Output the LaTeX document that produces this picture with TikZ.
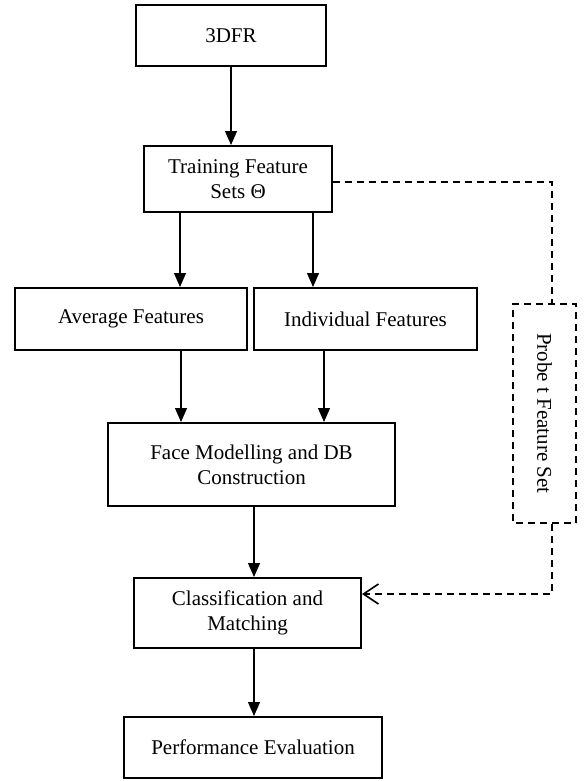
\documentclass[tikz,border=0pt]{standalone}
\usepackage{fontspec}
\setmainfont{Liberation Serif}
\usetikzlibrary{arrows.meta}
\begin{document}
\begin{tikzpicture}[x=1pt,y=-1pt,
  box/.style={draw,line width=2pt,inner sep=0pt,font=\fontsize{21}{25}\selectfont,align=center},
  arr/.style={line width=1.2pt,-{Triangle[length=14pt,width=12pt]}},
  dsh/.style={line width=1.8pt,dash pattern=on 7pt off 5pt}]
\useasboundingbox (0,0) rectangle (584,781);
\node[box,minimum width=190pt,minimum height=61pt] (dfr) at (231,35.5) {3DFR};
\node[box,minimum width=188pt,minimum height=66pt] (train) at (238,179) {Training Feature\\Sets Θ};
\node[box,minimum width=232pt,minimum height=62pt] (avg) at (131,319) {Average Features};
\node[box,minimum width=223pt,minimum height=62pt] (ind) at (365.5,319) {Individual Features};
\node[box,minimum width=287pt,minimum height=83pt] (face) at (251.5,464.5) {Face Modelling and DB\\Construction};
\node[box,minimum width=227pt,minimum height=70pt] (class) at (247.5,613) {Classification and\\Matching};
\node[box,minimum width=258pt,minimum height=61pt] (perf) at (253,747.5) {Performance Evaluation};
\node[box,dsh,rotate=-90,minimum width=219pt,minimum height=63pt] (probe) at (544.5,413.5) {Probe t Feature Set};
\coordinate (xa) at (180,0);
\coordinate (xb) at (313,0);
\coordinate (xc) at (181,0);
\coordinate (xd) at (324,0);
\coordinate (xe) at (254,0);
\coordinate (k1) at (552,182);
\coordinate (k2) at (552,594);
\draw[arr] (dfr.south) -- (dfr.south |- train.north);
\draw[arr] (train.south -| xa) -- (avg.north -| xa);
\draw[arr] (train.south -| xb) -- (ind.north -| xb);
\draw[arr] (avg.south -| xc) -- (face.north -| xc);
\draw[arr] (ind.south -| xd) -- (face.north -| xd);
\draw[arr] (face.south -| xe) -- (class.north -| xe);
\draw[arr] (class.south -| xe) -- (perf.north -| xe);
\draw[dsh] (train.east |- k1) -- (k1) -- (k1 |- probe.west);
\draw[dsh,-{Straight Barb[length=15pt,width=20pt,line width=1.6pt]}] (k2 |- probe.east) -- (k2) -- (class.east |- k2);
\end{tikzpicture}
\end{document}
